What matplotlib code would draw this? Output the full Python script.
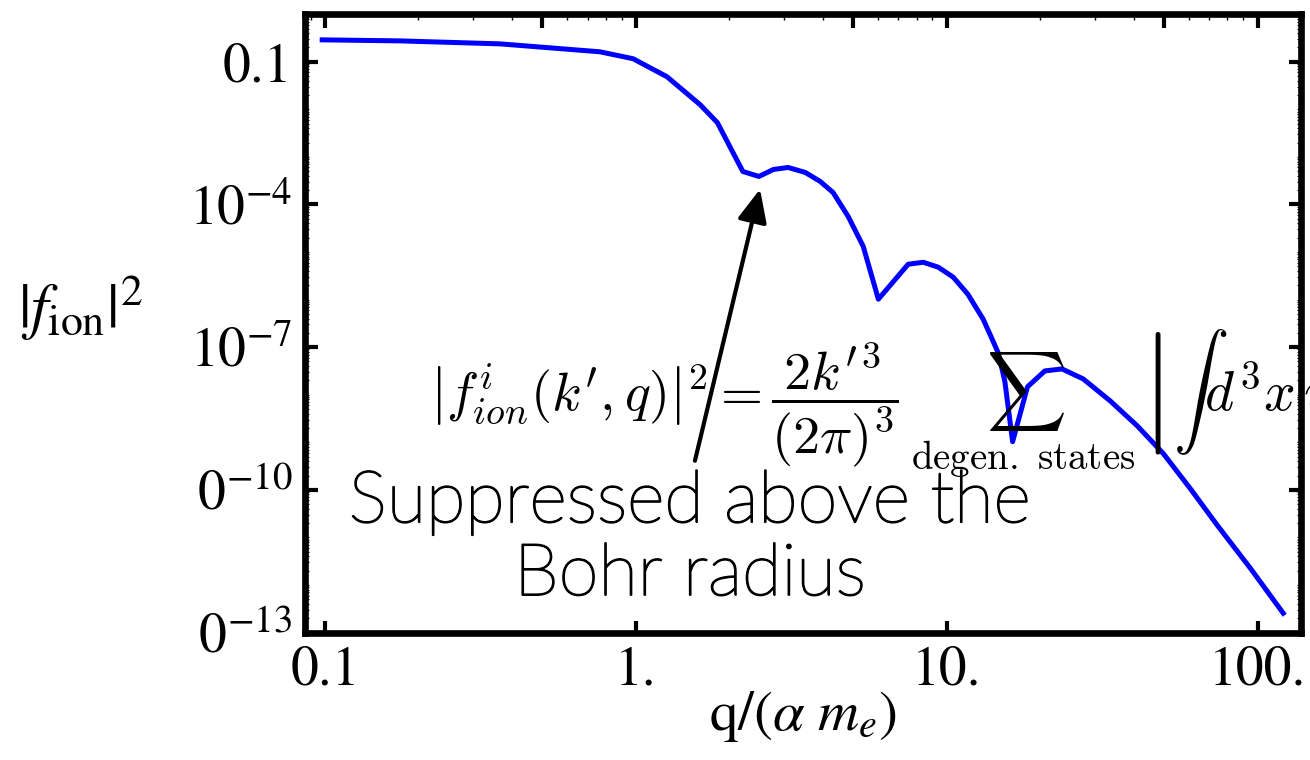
import numpy as np
import matplotlib
matplotlib.use("Agg")
import matplotlib.pyplot as plt
import matplotlib.patheffects as pe
from matplotlib.ticker import FixedLocator, LogLocator, NullFormatter
from matplotlib.patches import Rectangle

plt.rcParams['font.family'] = 'STIXGeneral'
plt.rcParams['mathtext.fontset'] = 'stix'

# |f_ion|^2
q = [0.098, 0.174, 0.366, 0.767, 0.98, 1.26, 1.61, 1.83, 2.21, 2.49, 2.77,
     3.09, 3.51, 3.92, 4.31, 4.82, 5.39, 6.03, 7.52, 8.41, 9.40, 10.5, 11.7,
     13.1, 14.0, 14.7, 15.4, 16.3, 18.2, 20.7, 23.5, 27.5, 33.6, 41.0, 49.8,
     60.8, 74.3, 94.9, 121.0]
fion2 = [0.289, 0.275, 0.238, 0.162, 0.116, 0.0485, 0.01256, 5.26e-3, 4.94e-4,
         3.88e-4, 5.44e-4, 6.0e-4, 4.71e-4, 3.05e-4, 1.79e-4, 5.63e-5, 1.32e-5,
         1.02e-6, 5.54e-6, 6.1e-6, 4.8e-6, 2.96e-6, 1.30e-6, 3.9e-7, 1.49e-7,
         7.2e-8, 1.86e-8, 1.03e-9, 1.47e-8, 3.17e-8, 3.49e-8, 2.15e-8, 7.4e-9,
         2.23e-9, 5.77e-10, 1.06e-10, 1.79e-11, 2.24e-12, 2.55e-13]

xticks = [0.1, 1, 10, 100]
xticklabels = ["0.1", "1.", "10.", "100."]
yticks = [1e-1, 1e-4, 1e-7, 1e-10, 1e-13]
yticklabels = ["0.1", r"$10^{-4}$", r"$10^{-7}$", r"$10^{-10}$", r"$10^{-13}$"]
top_major = [0.1, 0.5, 1, 5, 10, 50, 100]

W, H = 1310, 760
def fx(px):
    return px / W
def fy(py):
    return 1 - py / H

fig = plt.figure(figsize=(13.1, 7.6), dpi=100)
ax = fig.add_axes([fx(305), fy(633), fx(1301) - fx(305), fy(14) - fy(633)])
ax.set_xscale('log')
ax.set_yscale('log')
ax.plot(q, fion2, color='#0000ff', lw=3.6)
ax.set_xlim(0.0863, 138)
ax.set_ylim(9.8e-14, 1.01)

for s in ax.spines.values():
    s.set_linewidth(4.8)

ax.xaxis.set_major_locator(FixedLocator(xticks))
ax.set_xticklabels(xticklabels)
ax.xaxis.set_minor_locator(FixedLocator([]))
ax.yaxis.set_major_locator(FixedLocator(yticks))
ax.set_yticklabels(yticklabels)
ax.yaxis.set_minor_locator(LogLocator(base=10, subs=np.arange(1, 10), numticks=200))
ax.yaxis.set_minor_formatter(NullFormatter())
ax.tick_params(axis='both', which='major', direction='in', length=9, width=3,
               labelsize=40, pad=9)
ax.tick_params(axis='y', which='both', right=True)
ax.tick_params(axis='y', which='minor', direction='in', length=3, width=0.8)
ax.tick_params(axis='x', which='both', top=False)

# top axis: major + minor ticks, no labels
ax2 = ax.twiny()
ax2.set_xscale('log')
ax2.set_xlim(ax.get_xlim())
ax2.xaxis.set_major_locator(FixedLocator(top_major))
ax2.xaxis.set_minor_locator(LogLocator(base=10, subs=np.arange(2, 10), numticks=50))
ax2.xaxis.set_major_formatter(NullFormatter())
ax2.xaxis.set_minor_formatter(NullFormatter())
ax2.tick_params(axis='x', which='major', direction='in', length=10, width=3)
ax2.tick_params(axis='x', which='minor', direction='in', length=4, width=1)
for s in ax2.spines.values():
    s.set_visible(False)

fig.text(fx(18), fy(308), r"$|f_{\rm ion}|^2$", fontsize=45, ha='left', va='center')
fig.text(fx(803), fy(730), r"q/($\alpha\ m_e$)", fontsize=41, ha='center', va='baseline')

# formula overlay
fig.text(fx(430), fy(411), r"$\left|f^{i}_{ion}(k',q)\right|^2=\dfrac{2k'^3}{(2\pi)^3}$",
         fontsize=39, math_fontfamily='cm', ha='left', va='baseline')
fig.text(fx(1023), fy(411), r"$\sum_{\rm degen.\ states}$",
         fontsize=40, math_fontfamily='cm', ha='center', va='baseline')
fig.text(fx(1140), fy(411), r"$\left|\int d^3x\,u\right.$",
         fontsize=40, math_fontfamily='cm', ha='left', va='baseline')

ax.annotate("", xy=(2.51, 2.1e-4), xytext=(1.55, 4.1e-10),
            arrowprops=dict(arrowstyle="-|>,head_length=1.0,head_width=0.45",
                            mutation_scale=20, color='black', lw=3,
                            shrinkA=0, shrinkB=0))
fig.text(fx(690), fy(595), "Suppressed above the\nBohr radius", fontsize=52,
         family='Lato', weight='light', ha='center', va='baseline',
         linespacing=1.15,
         path_effects=[pe.withStroke(linewidth=1.3, foreground='black')])

# the leading "1" of the two lowest labels is hidden in the original
fig.add_artist(Rectangle((0, fy(660)), fx(196), fy(455) - fy(660),
                         transform=fig.transFigure, facecolor='white',
                         edgecolor='none'))

fig.savefig("out.png", dpi=100)
